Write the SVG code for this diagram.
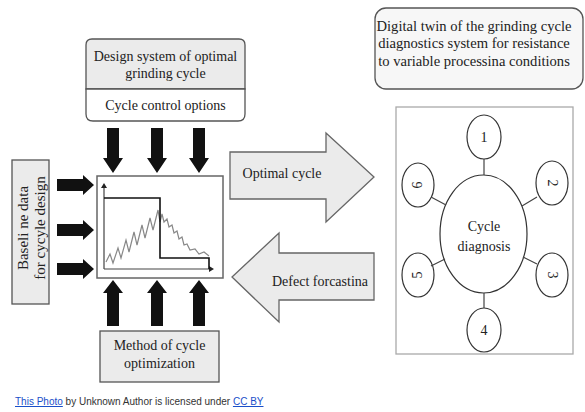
<svg xmlns="http://www.w3.org/2000/svg" width="585" height="412" viewBox="0 0 585 412">
<defs>
<style>
text{font-family:"Liberation Serif","Times New Roman",serif;fill:#222;}
.t{font-size:14px;text-anchor:middle;}
.tw{font-size:14.6px;text-anchor:middle;}
.tr{font-size:15px;text-anchor:middle;}
.box{fill:#ebebeb;stroke:#555;stroke-width:1.3;}
.wbox{fill:#fff;stroke:#555;stroke-width:1.3;}
.big{fill:#ebebeb;stroke:#666;stroke-width:1.3;}
.blk{fill:#111;}
.el{fill:#fff;stroke:#333;stroke-width:1.2;}
.ln{stroke:#444;stroke-width:1.2;fill:none;}
.attr{font-family:"Liberation Sans",Arial,sans-serif;font-size:10px;}
</style>
<path id="dn" d="M-6,0 H6 V30 H10 L0,45 L-10,30 H-6 Z"/>
<path id="up" d="M-6,0 H6 V-33 H10 L0,-46 L-10,-33 H-6 Z"/>
<path id="rt" d="M0,-6 H26 V-10 L37,0 L26,10 V6 H0 Z"/>
</defs>
<rect width="585" height="412" fill="#fff"/>

<g id="design">
<path d="M92,39 H239 Q245,39 245,45 V89 H86 V45 Q86,39 92,39 Z" class="box"/>
<path d="M86,89 H245 V114 Q245,121 238,121 H93 Q86,121 86,114 Z" class="wbox"/>
<text class="t" x="165.5" y="61">Design system of optimal</text>
<text class="t" x="165.5" y="78">grinding cycle</text>
<text class="t" x="165.5" y="110">Cycle control options</text>
</g>

<g id="baseline">
<rect x="12" y="160" width="37" height="144" class="box"/>
<text class="tr" transform="translate(28,228) rotate(-90)">Baseli ne data</text>
<text class="tr" transform="translate(44.5,228) rotate(-90)">for cycyle design</text>
</g>

<g id="chart">
<rect x="97" y="176" width="126" height="102" fill="#fff" stroke="#666" stroke-width="1.5"/>
<path d="M104,269 V186 M104,269 H211" class="ln" stroke="#222"/>
<path d="M101,188 L104,183 L107,188 Z M209,266 L214,269 L209,272 Z" fill="#222"/>
<polyline points="106,262 110,254 113,263 118,248 121,258 126,240 129,252 134,232 137,245 142,225 145,238 150,218 153,230 158,210 160,222 162,214 164,222 167,219 169,227 172,225 174,233 177,231 179,239 182,237 184,245 187,244 190,250 195,249 199,254 204,252 209,256" fill="none" stroke="#888" stroke-width="1.2"/>
<path d="M104,198 H160 V258 H209 V269" fill="none" stroke="#111" stroke-width="1.6"/>
</g>

<g id="method">
<rect x="100" y="331" width="119" height="51" class="box"/>
<text class="t" x="159.5" y="350">Method of cycle</text>
<text class="t" x="159.5" y="368">optimization</text>
</g>

<g id="optimal">
<path d="M230,152 H326 V133 L374,177 L326,222 V199 H230 Z" class="big"/>
<text class="t" x="282" y="178">Optimal cycle</text>
</g>

<g id="defect">
<path d="M374,253 H279 V233 L232,277 L279,322 V300 H374 Z" class="big"/>
<text class="t" x="320" y="286">Defect forcastina</text>
</g>

<g id="twin">
<rect x="375" y="8" width="208" height="81" rx="11" fill="#f7f7f7" stroke="#555" stroke-width="1.3"/>
<text class="tw" x="474" y="31">Digital twin of the grinding cycle</text>
<text class="tw" x="474" y="48">diagnostics system for resistance</text>
<text class="tw" x="474" y="66">to variable processina conditions</text>
</g>

<g id="diagnosis">
<rect x="396" y="107" width="177" height="247" fill="#fff" stroke="#aaa" stroke-width="1.3"/>
<ellipse cx="483.5" cy="234" rx="43.5" ry="59" class="el"/>
<text class="t" x="484" y="231">Cycle</text>
<text class="t" x="484" y="251">diagnosis</text>
</g>

<g id="n1"><ellipse cx="484" cy="137" rx="17" ry="22" class="el"/><text class="t" x="484" y="142">1</text></g>
<g id="n2"><ellipse cx="552" cy="183" rx="16" ry="22" class="el"/><text class="t" transform="translate(548,183) rotate(90)">2</text></g>
<g id="n3"><ellipse cx="552" cy="275" rx="16" ry="22" class="el"/><text class="t" transform="translate(548,275) rotate(90)">3</text></g>
<g id="n4"><ellipse cx="484" cy="330" rx="17" ry="22" class="el"/><text class="t" x="484" y="335">4</text></g>
<g id="n5"><ellipse cx="418" cy="275" rx="16" ry="22" class="el"/><text class="t" transform="translate(422,275) rotate(-90)">5</text></g>
<g id="n6"><ellipse cx="418" cy="185" rx="16" ry="22" class="el"/><text class="t" transform="translate(422,185) rotate(-90)">6</text></g>

<g id="connectors">
<use href="#dn" x="113" y="128" class="blk"/>
<use href="#dn" x="157" y="128" class="blk"/>
<use href="#dn" x="199" y="128" class="blk"/>
<use href="#up" x="113" y="326" class="blk"/>
<use href="#up" x="157" y="326" class="blk"/>
<use href="#up" x="199" y="326" class="blk"/>
<use href="#rt" x="57" y="185" class="blk"/>
<use href="#rt" x="57" y="230" class="blk"/>
<use href="#rt" x="57" y="269" class="blk"/>
<path d="M484,159 V175 M484,293 V308 M431,197 L446,205 M537,197 L522,206 M431,266 L445,259 M537,264 L523,257" class="ln"/>
</g>

<g id="attribution">
<text class="attr" x="15" y="405"><tspan fill="#1a4fc9" text-decoration="underline">This Photo</tspan><tspan fill="#333"> by Unknown Author is licensed under </tspan><tspan fill="#1a4fc9" text-decoration="underline">CC BY</tspan></text>
</g>
</svg>
